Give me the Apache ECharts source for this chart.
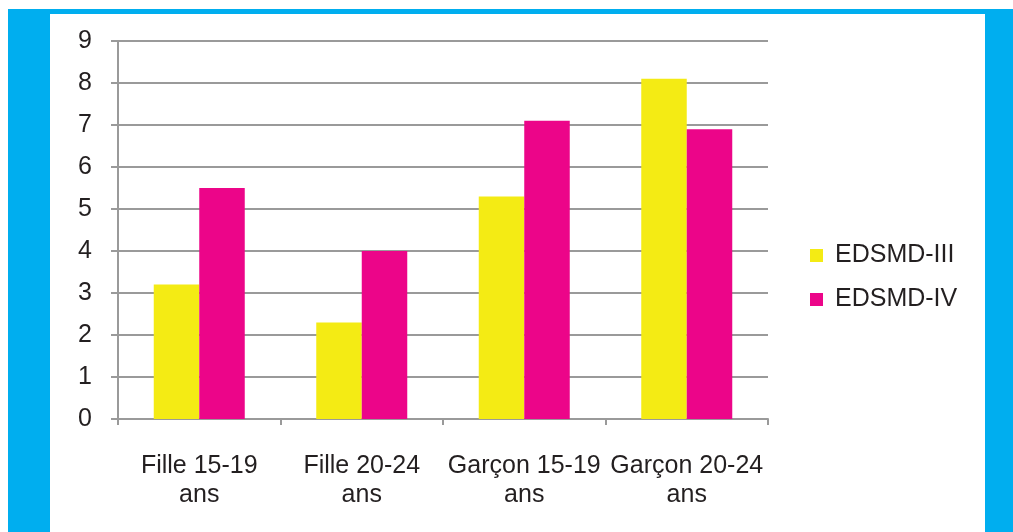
<!DOCTYPE html>
<html>
<head>
<meta charset="utf-8">
<script src="https://cdn.jsdelivr.net/npm/echarts@6/dist/echarts.min.js"></script>
<style>
  html, body { margin: 0; padding: 0; background: #ffffff; }
  #chart { width: 1013px; height: 532px; }
</style>
</head>
<body>
<div id="chart"></div>
<script>
// Categories and values (percent) by survey round
const categories = ['Fille 15-19\nans', 'Fille 20-24\nans', 'Garçon 15-19\nans', 'Garçon 20-24\nans'];
const seriesNames = ['EDSMD-III', 'EDSMD-IV'];
const edsmd3 = [3.2, 2.3, 5.3, 8.1];
const edsmd4 = [5.5, 4.0, 7.1, 6.9];
const yTicks = [0, 1, 2, 3, 4, 5, 6, 7, 8, 9];

const FONT = '"Liberation Sans", Arial, sans-serif';
const TEXT = '#231f20';
const GRID = '#9a9a9a';
const BLUE = '#00aeef';

const chart = echarts.init(document.getElementById('chart'), null, { renderer: 'canvas' });

chart.setOption({
  animation: false,
  backgroundColor: '#ffffff',
  textStyle: { fontFamily: FONT },
  graphic: [
    // blue frame around the panel
    { type: 'rect', shape: { x: 8, y: 9, width: 1005, height: 5 }, style: { fill: BLUE }, silent: true },
    { type: 'rect', shape: { x: 8, y: 9, width: 42, height: 523 }, style: { fill: BLUE }, silent: true },
    { type: 'rect', shape: { x: 985, y: 9, width: 28, height: 523 }, style: { fill: BLUE }, silent: true }
  ],
  grid: { left: 118, top: 41, right: 245, bottom: 113, containLabel: false },
  legend: {
    data: seriesNames,
    orient: 'vertical',
    left: 810,
    top: 243,
    padding: 0,
    itemWidth: 13,
    itemHeight: 13,
    itemGap: 19,
    icon: 'rect',
    textStyle: { fontSize: 25, color: TEXT, fontFamily: FONT, lineHeight: 25, padding: [0, 0, 0, 7] }
  },
  xAxis: {
    type: 'category',
    data: categories,
    boundaryGap: true,
    axisLine: { lineStyle: { color: GRID, width: 2 } },
    axisTick: { show: true, length: 6, lineStyle: { color: GRID, width: 2 } },
    axisLabel: { fontSize: 25, color: TEXT, fontFamily: FONT, lineHeight: 29, margin: 33, interval: 0 },
    splitLine: { show: false }
  },
  yAxis: {
    type: 'value',
    min: yTicks[0],
    max: yTicks[yTicks.length - 1],
    interval: 1,
    axisLine: { show: true, lineStyle: { color: GRID, width: 2 } },
    axisTick: { show: true, length: 7, lineStyle: { color: GRID, width: 2 } },
    axisLabel: { fontSize: 25, color: TEXT, fontFamily: FONT, margin: 26, padding: [4, 0, 0, 0] },
    splitLine: { show: true, lineStyle: { color: GRID, width: 2 } }
  },
  series: [
    {
      name: seriesNames[0],
      type: 'bar',
      data: edsmd3,
      itemStyle: { color: '#f4eb14' },
      barGap: '0%',
      barCategoryGap: '44%'
    },
    {
      name: seriesNames[1],
      type: 'bar',
      data: edsmd4,
      itemStyle: { color: '#ec0589' },
      barGap: '0%',
      barCategoryGap: '44%'
    }
  ]
});
</script>
</body>
</html>
